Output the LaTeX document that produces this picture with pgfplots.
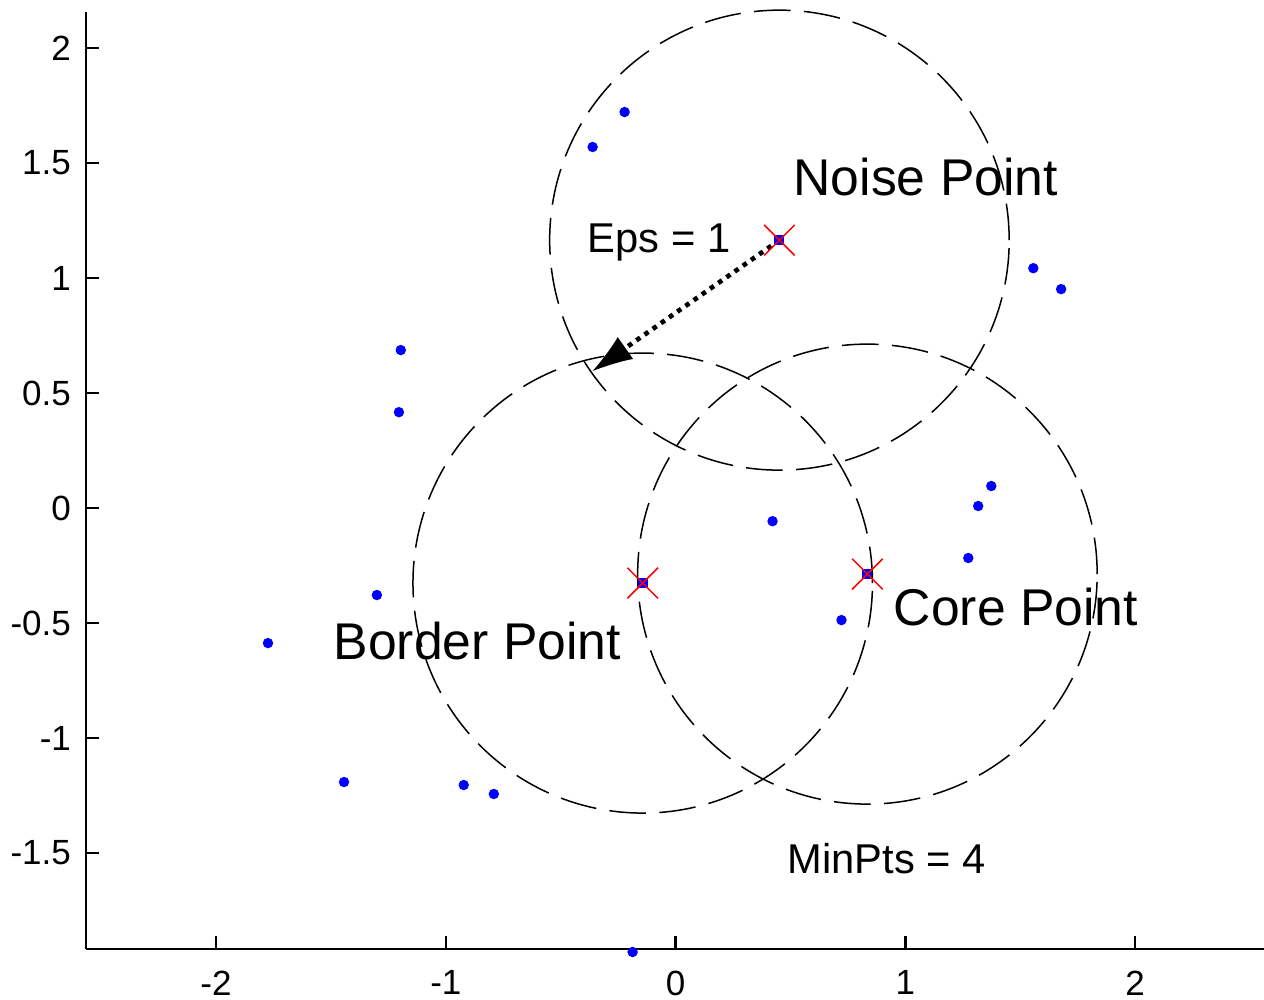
\documentclass[border=0pt]{standalone}
\usepackage{pgfplots}
\pgfplotsset{compat=1.18}
\usepackage{fontspec}
\setmainfont{Liberation Sans}
\usetikzlibrary{arrows.meta}

\begin{document}
\begin{tikzpicture}
\begin{axis}[
    axis lines*=left, % box off, as in the original figure
    scale only axis,
    width=353.4pt, height=281.1pt,
    xmin=-2.566, xmax=2.561,
    ymin=-1.917, ymax=2.157,
    axis line style={line width=0.6pt},
    xtick={-2,-1,0,1,2},
    ytick={-1.5,-1,-0.5,0,0.5,1,1.5,2},
    tick align=inside,
    major tick length=4pt,
    tick style={black, line width=0.7pt},
    ticklabel style={font=\fontsize{10.5}{12}\selectfont},
    /pgf/number format/assume math mode=true,
    yticklabel style={xshift=-1pt},
    xticklabel style={yshift=-3pt},
    clip=false]

    % neighbourhoods of radius Eps = 1
    \draw[black, line width=0.45pt, dash pattern=on 11pt off 4pt]
        (axis cs:0.452,1.165) circle [radius=1];
    \draw[black, line width=0.45pt, dash pattern=on 11pt off 4pt]
        (axis cs:-0.143,-0.326) circle [radius=1];
    \draw[black, line width=0.45pt, dash pattern=on 11pt off 4pt]
        (axis cs:0.835,-0.287) circle [radius=1];

    % ordinary points
    \addplot[only marks, mark=*, mark size=1.35pt, color=blue] coordinates {
        (-0.222,1.722) (-0.361,1.570) (1.557,1.043) (1.678,0.952)
        (-1.196,0.687) (-1.204,0.417) (1.374,0.096) (1.317,0.009)
        (0.422,-0.057) (1.274,-0.217) (0.722,-0.487) (-1.300,-0.378)
        (-1.774,-0.587) (-1.443,-1.191) (-0.922,-1.204) (-0.791,-1.243)
        (-0.187,-1.930)
    };

    % arrow showing Eps
    \addplot[black, line width=1.4pt, dash pattern=on 1.4pt off 1.6pt,
        -{Latex[length=12pt,width=8pt,line width=0pt]}] coordinates {
        (0.452,1.165) (-0.361,0.596)
    };

    % highlighted points
    \addplot[only marks, mark=square*, mark size=1.3pt, color=blue] coordinates {
        (0.452,1.165) (-0.143,-0.326) (0.835,-0.287)
    };
    \addplot[only marks, mark=x, mark size=6.5pt, color=red,
        mark options={line width=0.45pt}] coordinates {
        (0.452,1.165) (-0.143,-0.326) (0.835,-0.287)
    };

    \node[anchor=base west, inner sep=0pt, font=\fontsize{15.5}{18}\selectfont]
        at (axis cs:0.511,1.357) {Noise Point};
    \node[anchor=base west, inner sep=0pt, font=\fontsize{12.5}{15}\selectfont]
        at (axis cs:-0.385,1.113) {Eps = 1};
    \node[anchor=base west, inner sep=0pt, font=\fontsize{15.5}{18}\selectfont]
        at (axis cs:-1.491,-0.657) {Border Point};
    \node[anchor=base west, inner sep=0pt, font=\fontsize{15.5}{18}\selectfont]
        at (axis cs:0.947,-0.509) {Core Point};
    \node[anchor=base west, inner sep=0pt, font=\fontsize{12.5}{15}\selectfont]
        at (axis cs:0.485,-1.587) {MinPts = 4};
\end{axis}
\pgfresetboundingbox
\path (current axis.south west) ++(-25.8pt,-15pt) coordinate (bbsw);
\path (current axis.north east) ++(0pt,3.6pt) coordinate (bbne);
\useasboundingbox (bbsw) rectangle (bbne);
\end{tikzpicture}
\end{document}
